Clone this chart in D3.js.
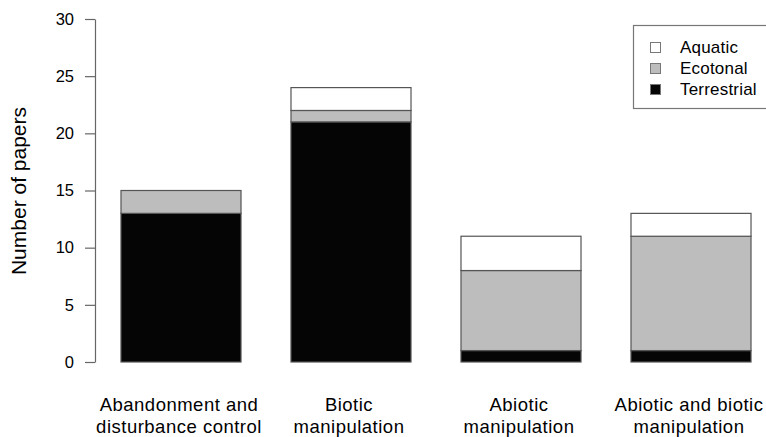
<!DOCTYPE html>
<html><head><meta charset="utf-8">
<script src="https://cdn.jsdelivr.net/npm/d3@7"></script>
<style>body{margin:0;background:#fff}svg{display:block;font-family:"Liberation Sans",Arial,sans-serif}</style>
</head><body>
<svg id="c" width="766" height="437"></svg>
<script>
const categories = [["Abandonment and","disturbance control"],["Biotic","manipulation"],["Abiotic","manipulation"],["Abiotic and biotic","manipulation"]];
const terrestrial = [13, 21, 1, 1];
const ecotonal = [2, 1, 7, 10];
const aquatic = [0, 2, 3, 2];
const seriesNames = ["Terrestrial","Ecotonal","Aquatic"];
const seriesColors = ["#050505","#bdbdbd","#ffffff"];
const yTicks = [0,5,10,15,20,25,30];

const svg = d3.select("#c");
const keys = categories.map((d,i)=>i);
const x = d3.scaleBand().domain(keys).range([96,776]).paddingInner(0.294).paddingOuter(0.147);
const y = d3.scaleLinear().domain([0,30]).range([362,19]);

const rows = keys.map(i=>({i, Terrestrial:terrestrial[i], Ecotonal:ecotonal[i], Aquatic:aquatic[i]}));
const stack = d3.stack().keys(seriesNames)(rows);

stack.forEach((layer,li)=>{
  svg.append("g").selectAll("rect").data(layer.filter(d=>d[1]-d[0]>0)).join("rect")
    .attr("x",d=>x(d.data.i)).attr("width",x.bandwidth())
    .attr("y",d=>y(d[1])).attr("height",d=>y(d[0])-y(d[1]))
    .attr("fill",seriesColors[li]).attr("stroke","#555").attr("stroke-width",1.2);
});

const ax = svg.append("g").attr("transform","translate(95,0)")
  .call(d3.axisLeft(y).tickValues(yTicks).tickSizeInner(10).tickSizeOuter(0).tickPadding(11));
ax.selectAll("path,line").attr("stroke","#666").attr("stroke-width",1.2);
ax.selectAll("text").attr("font-size",16.5).attr("fill","#000").style("font-family","Liberation Sans, Arial, sans-serif");

svg.append("text").attr("transform","translate(26,191) rotate(-90)")
  .attr("text-anchor","middle").attr("font-size",21).attr("fill","#000").text("Number of papers");

const xl = svg.append("g").selectAll("text").data(keys).join("text")
  .attr("text-anchor","middle").attr("font-size",18.5).attr("letter-spacing",0.5).attr("fill","#000");
xl.each(function(i){
  const t=d3.select(this);
  categories[i].forEach((ln,k)=>t.append("tspan").attr("x",x(i)+x.bandwidth()/2-2).attr("y",411+k*22).text(ln));
});

const lg = svg.append("g");
lg.append("rect").attr("x",633.5).attr("y",25.5).attr("width",140).attr("height",83)
  .attr("fill","#fff").attr("stroke","#777").attr("stroke-width",1.2);
const legendOrder = [2,1,0];
legendOrder.forEach((si,k)=>{
  const base = 53 + k*21;
  lg.append("rect").attr("x",650.5).attr("y",base-10.5).attr("width",10).attr("height",10)
    .attr("fill",seriesColors[si]).attr("stroke","#777").attr("stroke-width",1);
  lg.append("text").attr("x",680).attr("y",base).attr("font-size",17).attr("letter-spacing",0.2).attr("fill","#000").text(seriesNames[si]);
});
</script>
</body></html>
